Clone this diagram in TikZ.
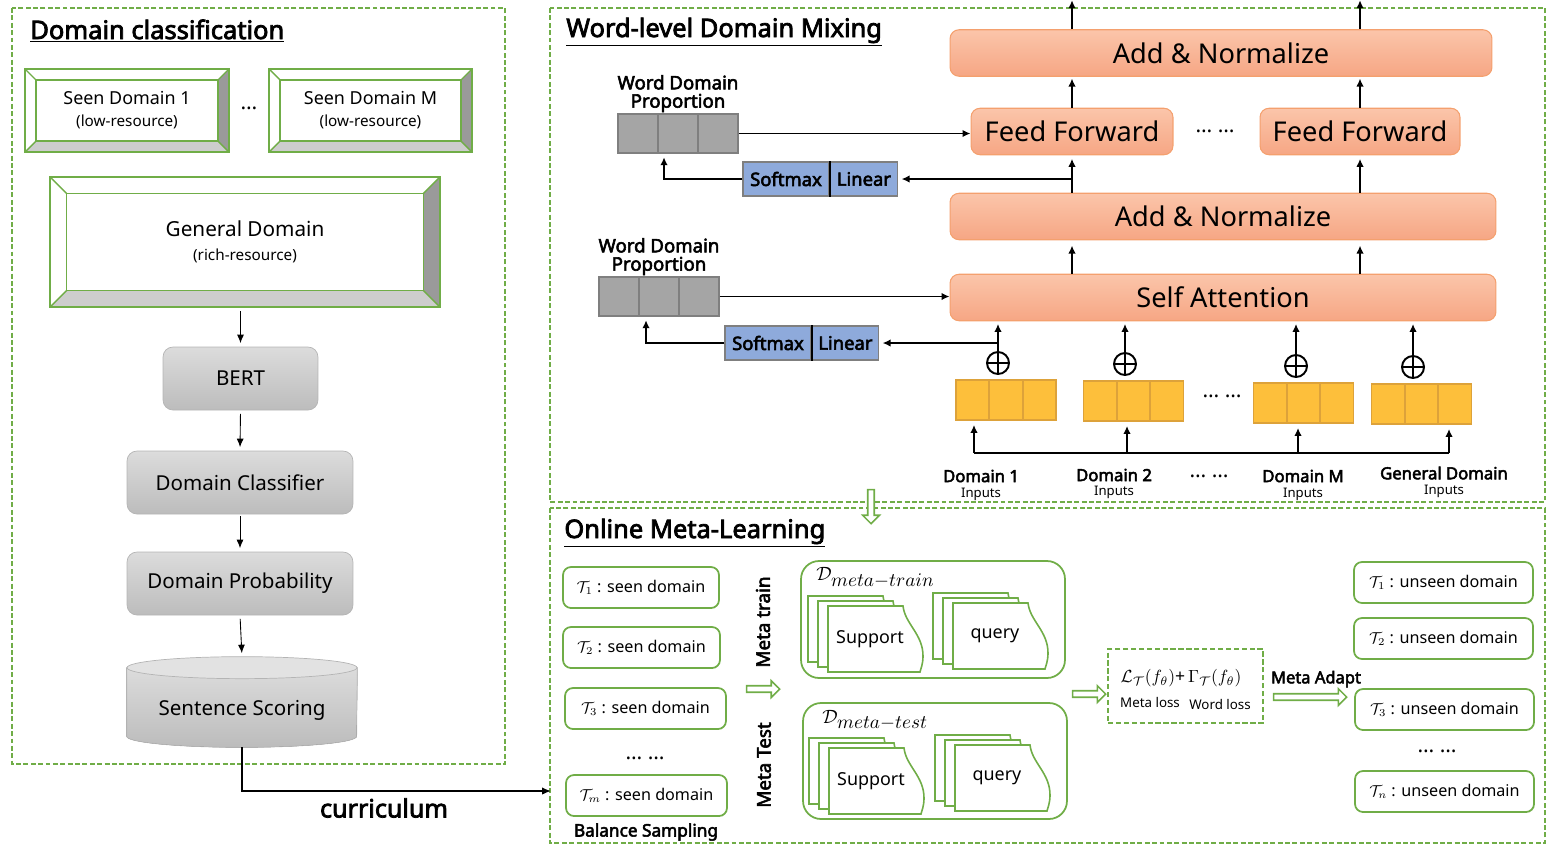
\documentclass[tikz,border=0pt]{standalone}
\usepackage{fontspec}
\setmainfont{Noto Sans}[BoldFont={Noto Sans}, BoldFeatures={FakeBold=3}]
\usetikzlibrary{positioning,calc,shapes.arrows,arrows.meta}

\definecolor{panelgreen}{HTML}{70AD47}
\definecolor{bevdark}{HTML}{9A9A9A}
\definecolor{bevlight}{HTML}{CDCDCD}
\definecolor{greytop}{HTML}{DCDCDC}
\definecolor{greybot}{HTML}{BCBCBC}
\definecolor{greyline}{HTML}{B4B4B4}
\definecolor{cyltop}{HTML}{E2E2E2}
\definecolor{orangetop}{HTML}{FBC5AA}
\definecolor{orangebot}{HTML}{F6A684}
\definecolor{orangeline}{HTML}{F4A06E}
\definecolor{softblue}{HTML}{8EAADB}
\definecolor{barline}{HTML}{7F7F7F}
\definecolor{bargrey}{HTML}{A5A5A5}
\definecolor{inputyellow}{HTML}{FDBF3B}
\definecolor{inputline}{HTML}{DDA23A}

\newcommand{\fsz}[1]{\fontsize{#1}{#1}\selectfont}

\tikzstyle{panel} = [draw=panelgreen, line width=0.6pt, dash pattern=on 2.8pt off 1.4pt]
\tikzstyle{paneltitle} = [anchor=base west, inner sep=0pt, font=\bfseries\fsz{14.5pt}]
\tikzstyle{graybox} = [draw=greyline, rounded corners=0.2cm, top color=greytop, bottom color=greybot, minimum height=1.26cm, font=\fsz{11.7pt}]
\tikzstyle{orangebox} = [draw=orangeline, line width=0.6pt, rounded corners=0.18cm, top color=orangetop, bottom color=orangebot, minimum height=0.93cm, font=\fsz{15.5pt}]
\tikzstyle{bluebox} = [draw=barline, fill=softblue, line width=0.8pt, minimum height=0.68cm, inner sep=0pt, font=\bfseries\fsz{10.5pt}]
\tikzstyle{wdplabel} = [align=center, inner sep=0.5pt, font=\bfseries\fontsize{10.6pt}{10.4pt}\selectfont]
\tikzstyle{dlabel} = [inner sep=1pt, font=\bfseries\fsz{9.5pt}]
\tikzstyle{inlabel} = [inner sep=1pt, font=\fsz{7.5pt}]
\tikzstyle{taskbox} = [draw=panelgreen, line width=1pt, rounded corners=0.16cm, minimum height=0.82cm, font=\fsz{9.2pt}]
\tikzstyle{metabox} = [draw=panelgreen, line width=1pt, rounded corners=0.36cm, minimum width=5.28cm]
\tikzstyle{metalabel} = [inner sep=1pt, font=\bfseries\fsz{10.7pt}]
\tikzstyle{dmlabel} = [anchor=west, inner sep=0pt, font=\fsz{11pt}]
\tikzstyle{dotsnode} = [font=\fsz{12pt}]
\tikzstyle{hollow} = [single arrow, draw=panelgreen, fill=white, line width=0.9pt, inner sep=1.4pt, single arrow head extend=2.9pt, single arrow head indent=0pt]
\tikzstyle{arr} = [-{Latex[length=1.6mm,width=1.5mm]}, line width=1.1pt]
\tikzstyle{thinarr} = [-{Latex[length=1.7mm,width=1.4mm]}, line width=0.5pt]

\tikzset{
  bevel/.style={draw=panelgreen, line width=1pt, fill=white, inner sep=0pt, align=center,
    path picture={
      \fill[bevdark] (path picture bounding box.north east) -- (path picture bounding box.south east)
        -- ([shift={(-#1,#1)}]path picture bounding box.south east) -- ([shift={(-#1,-#1)}]path picture bounding box.north east) -- cycle;
      \fill[bevlight] (path picture bounding box.south west) -- (path picture bounding box.south east)
        -- ([shift={(-#1,#1)}]path picture bounding box.south east) -- ([shift={(#1,#1)}]path picture bounding box.south west) -- cycle;
      \draw[panelgreen, line width=1pt] ([shift={(#1,#1)}]path picture bounding box.south west) rectangle ([shift={(-#1,-#1)}]path picture bounding box.north east);
      \draw[panelgreen, line width=0.8pt] (path picture bounding box.north west) -- ++(#1,-#1)
        (path picture bounding box.north east) -- ++(-#1,-#1)
        (path picture bounding box.south west) -- ++(#1,#1)
        (path picture bounding box.south east) -- ++(-#1,#1);
    }},
  barcells/.style={inner sep=0pt,
    path picture={
      \foreach \f in {0.333,0.667}
        \draw[line width=1.3pt] ($(path picture bounding box.south west)!\f!(path picture bounding box.south east)$)
          -- ($(path picture bounding box.north west)!\f!(path picture bounding box.north east)$);
    }},
  wordbar/.style={barcells, draw=barline, fill=bargrey, line width=0.8pt, minimum width=2.4cm, minimum height=0.78cm},
  inbar/.style={barcells, draw=inputline, fill=inputyellow, line width=0.6pt, minimum width=2cm, minimum height=0.8cm},
  oplus/.style={circle, draw, line width=1.1pt, minimum size=0.44cm, inner sep=0pt,
    path picture={\draw[line width=1.1pt] (path picture bounding box.north) -- (path picture bounding box.south)
      (path picture bounding box.west) -- (path picture bounding box.east);}},
  docstack/.pic={
    \foreach \d in {20,10,0}
      \filldraw[draw=panelgreen, line width=0.9pt, fill=white, shift={(-\d,-\d/2)}] (0,0) -- (75,0)
        .. controls (77,18) and (95,28) .. (95,50) .. controls (95,58) and (93,62) .. (92,66) -- (0,66) -- cycle;
    \node[font=\fsz{10.2pt}] (-txt) at (42,33) {#1};
  }
}

\begin{document}
\begin{tikzpicture}[x=0.02cm, y=-0.02cm]
  \useasboundingbox (0,0) rectangle (1554,853);
  \draw[panel] (12,8) rectangle (505,764);
  \draw[panel] (550,8) rectangle (1545,502);
  \draw[panel] (550,508) rectangle (1545,843);

  % domain classification
  \node[paneltitle] (dctitle) at (30,39) {\underline{Domain classification}};
  \node[bevel=0.22cm, minimum width=4.08cm, minimum height=1.66cm, font=\fontsize{10.2pt}{12.5pt}\selectfont] (sd1) at (127,110.5)
    {Seen Domain 1\\{\fsz{8.7pt}(low-resource)}};
  \node[dotsnode] (sddots) at (249,108) {…};
  \node[bevel=0.22cm, minimum width=4.06cm, minimum height=1.66cm, font=\fontsize{10.2pt}{12.5pt}\selectfont] (sdm) at (370.5,110.5)
    {Seen Domain M\\{\fsz{8.7pt}(low-resource)}};
  \node[bevel=0.33cm, minimum width=7.8cm, minimum height=2.6cm, font=\fontsize{11.8pt}{13.6pt}\selectfont] (gd) at (245,242)
    {General Domain\\{\fsz{8.7pt}(rich-resource)}};
  \node[graybox, minimum width=3.1cm] (bert) at (240.5,378.5) {BERT};
  \node[graybox, minimum width=4.52cm] (dcls) at (240,482.5) {Domain Classifier};
  \node[graybox, minimum width=4.52cm] (dprob) at (240,583.5) {Domain Probability};
  \node[minimum width=4.6cm, minimum height=1.8cm] (score) at (242,702) {};
  \filldraw[draw=greyline, top color=greytop, bottom color=greybot] ([yshift=-0.22cm]score.north west)
    -- ([yshift=0.22cm]score.south west) arc[start angle=180, end angle=360, x radius=2.3cm, y radius=0.22cm]
    -- ([yshift=-0.22cm]score.north east) -- cycle;
  \filldraw[draw=greyline, fill=cyltop] ([yshift=-0.22cm]score.north) ellipse[x radius=2.3cm, y radius=0.22cm];
  \node[font=\fsz{11.7pt}] (scoretxt) at ([yshift=-0.16cm]score.center) {Sentence Scoring};

  \draw[thinarr, shorten <=2pt, shorten >=2pt] (bert.north |- gd.south) -- (bert.north);
  \draw[thinarr, shorten <=2pt, shorten >=2pt] (bert.south) -- (dcls.north);
  \draw[thinarr, shorten <=1pt, shorten >=2pt] (dcls.south) -- (dprob.north);
  \draw[thinarr, shorten <=2pt, shorten >=2pt] (dprob.south) -- (score.north);

  \coordinate (curend) at (551,791);
  \draw[-{Latex[length=1.8mm,width=1.5mm]}, line width=0.8pt] (score.south) |- (curend);
  \node[font=\bfseries\fsz{14.3pt}] (curlbl) at (384,808) {curriculum};

  % word-level domain mixing
  \node[paneltitle] (wdtitle) at (566,37) {\underline{Word-level Domain Mixing}};
  \node[orangebox, minimum width=10.84cm] (an2) at (1221,53) {Add \& Normalize};
  \node[orangebox, minimum width=4.04cm] (ff1) at (1072,131.5) {Feed Forward};
  \node[orangebox, minimum width=4cm] (ff2) at (1360,131.5) {Feed Forward};
  \node[dotsnode] (ffdots) at (1215,131) {… …};
  \node[orangebox, minimum width=10.92cm] (an1) at (1223,216.5) {Add \& Normalize};
  \node[orangebox, minimum width=10.92cm] (sa) at (1223,297.5) {Self Attention};
  \foreach \n in {ff1,ff2}{
    \draw[arr, shorten >=3pt] (sa.north -| \n) -- (an1.south -| \n);
    \draw[arr, shorten >=2pt] (an1.north -| \n) -- (\n.south);
    \draw[arr, shorten >=1pt] (\n.north) -- (an2.south -| \n);
    \draw[arr] (an2.north -| \n) -- ++(0,-29);
  }

  \node[wordbar] (wdp1) at (678,133.5) {};
  \node[wdplabel, above=0pt of wdp1] (wdl1) {Word Domain\\Proportion};
  \node[bluebox, minimum width=1.72cm] (sm1) at (786,179) {Softmax};
  \node[bluebox, minimum width=1.34cm, right=0pt of sm1] (lin1) {Linear};
  \draw[line width=1.3pt] (sm1.north east) -- (sm1.south east);
  \draw[arr] (wdp1.east) -- (wdp1.east -| ff1.west);
  \draw[arr, shorten >=2pt] (ff1.south |- lin1.east) -- (lin1.east);
  \draw[arr, shorten >=2pt] (sm1.west) -| ([xshift=-0.28cm]wdp1.south);

  \node[wordbar] (wdp2) at (659,296.5) {};
  \node[wdplabel, above=0pt of wdp2] (wdl2) {Word Domain\\Proportion};
  \node[bluebox, minimum width=1.72cm] (sm2) at (768,343) {Softmax};
  \node[bluebox, minimum width=1.32cm, right=0pt of sm2] (lin2) {Linear};
  \draw[line width=1.3pt] (sm2.north east) -- (sm2.south east);
  \draw[arr] (wdp2.east) -- (wdp2.east -| sa.west);
  \draw[arr, shorten >=2pt] (sm2.west) -| ([xshift=-0.26cm]wdp2.south);

  \node[inbar] (in1) at (1006,400) {};
  \node[inbar] (in2) at (1133.5,401) {};
  \node[inbar] (in3) at (1303.5,403) {};
  \node[inbar] (in4) at (1421.5,404) {};
  \node[dotsnode] (indots) at (1222,396) {… …};
  \node[oplus] (p1) at (998,363) {};
  \node[oplus] (p2) at (1125,364) {};
  \node[oplus] (p3) at (1296,366) {};
  \node[oplus] (p4) at (1413,367) {};
  \foreach \p in {p1,p2,p3,p4}
    \draw[arr, shorten >=1.5pt] (\p.north) -- (\p.north |- sa.south);
  \draw[arr, shorten >=2pt] (p1.north |- lin2.east) -- (lin2.east);

  \coordinate (bus1) at (974,453);
  \coordinate (bus2) at (1127,453);
  \coordinate (bus3) at (1298,453);
  \coordinate (bus4) at (1449,453);
  \draw[line width=1.1pt] (bus1) -- (bus4);
  \draw[arr, shorten >=2.5pt] (bus1) -- (bus1 |- in1.south);
  \draw[arr, shorten >=2.5pt] (bus2) -- (bus2 |- in2.south);
  \draw[arr, shorten >=2.5pt] (bus3) -- (bus3 |- in3.south);
  \draw[arr, shorten >=2.5pt] (bus4) -- (bus4 |- in4.south);

  \node[dlabel] (dl1) at (981,476) {Domain 1};
  \node[inlabel] (il1) at (981,494) {Inputs};
  \node[dlabel] (dl2) at (1114,475) {Domain 2};
  \node[inlabel] (il2) at (1114,492) {Inputs};
  \node[dotsnode] (dldots) at (1209,476) {… …};
  \node[dlabel] (dl3) at (1303,476) {Domain M};
  \node[inlabel] (il3) at (1303,494) {Inputs};
  \node[dlabel] (dl4) at (1444,473) {General Domain};
  \node[inlabel] (il4) at (1444,491) {Inputs};

  \node[hollow, minimum height=0.68cm, shape border rotate=270] (down) at (871,505) {};

  % online meta-learning
  \node[paneltitle] (omtitle) at (564,538) {\underline{Online Meta-Learning}};
  \node[taskbox, minimum width=3.12cm] (t1) at (641,587.5) {$\mathcal{T}_1$ : seen domain};
  \node[taskbox, minimum width=3.14cm] (t2) at (641.5,647.5) {$\mathcal{T}_2$ : seen domain};
  \node[taskbox, minimum width=3.22cm] (t3) at (645.5,708.5) {$\mathcal{T}_3$ : seen domain};
  \node[dotsnode] (tdots) at (645,758) {… …};
  \node[taskbox, minimum width=3.22cm] (tm) at (646.5,795.5) {$\mathcal{T}_m$ : seen domain};
  \node[font=\bfseries\fsz{9.8pt}] (bal) at (646,832) {Balance Sampling};
  \node[metalabel, rotate=90] (mtr) at (763,622) {Meta train};
  \node[metalabel, rotate=90] (mte) at (764,765) {Meta Test};
  \node[hollow, minimum height=0.66cm] (ha1) at (761.5,689) {};

  \node[metabox, minimum height=2.34cm] (dtr) at (933,619.5) {};
  \node[dmlabel] (dtrl) at (816,578) {$\mathcal{D}_{\textstyle meta\mathord{-}train}$};
  \pic (sup1) at (828,606) {docstack=Support};
  \pic (qry1) at (953,603) {docstack=query};
  \node[metabox, minimum height=2.32cm] (dte) at (935,761) {};
  \node[dmlabel] (dtel) at (822,720) {$\mathcal{D}_{\textstyle meta\mathord{-}test}$};
  \pic (sup2) at (829,748) {docstack=Support};
  \pic (qry2) at (955,745) {docstack=query};

  \node[hollow, minimum height=0.66cm] (ha2) at (1087.5,694) {};
  \node[draw=panelgreen, line width=0.8pt, dash pattern=on 3pt off 1.5pt, minimum width=3.1cm, minimum height=1.48cm] (loss) at (1185.5,686) {};
  \node[font=\fsz{10pt}] (lossf) at (1181,678) {$\mathcal{L}_{\mathcal{T}}(f_\theta)$+\,$\Gamma_{\mathcal{T}}(f_\theta)$};
  \node[font=\fsz{7.6pt}] (mloss) at (1150,702) {Meta loss};
  \node[font=\fsz{7.6pt}] (wloss) at (1220,704) {Word loss};
  \node[font=\bfseries\fsz{9.4pt}] (madapt) at (1316,679) {Meta Adapt};
  \node[hollow, minimum height=1.46cm] (ha3) at (1308.5,697) {};

  \node[taskbox, minimum width=3.58cm] (u1) at (1443.5,582.5) {$\mathcal{T}_1$ : unseen domain};
  \node[taskbox, minimum width=3.58cm] (u2) at (1443.5,638.5) {$\mathcal{T}_2$ : unseen domain};
  \node[taskbox, minimum width=3.58cm] (u3) at (1444.5,709.5) {$\mathcal{T}_3$ : unseen domain};
  \node[dotsnode] (udots) at (1437,751) {… …};
  \node[taskbox, minimum width=3.58cm] (un) at (1444.5,791.5) {$\mathcal{T}_n$ : unseen domain};
\end{tikzpicture}
\end{document}
